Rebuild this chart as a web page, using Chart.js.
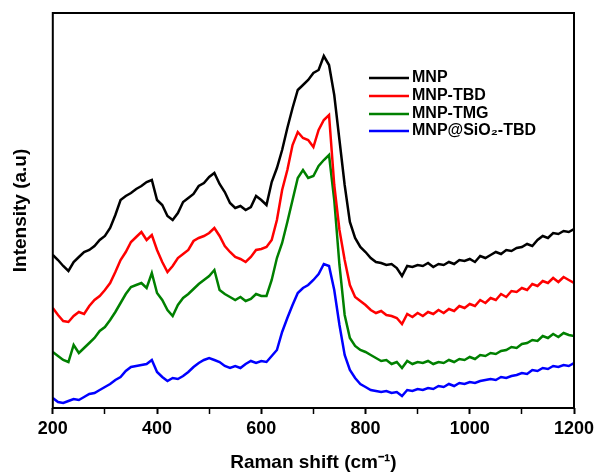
<!DOCTYPE html>
<html>
<head>
<meta charset="utf-8">
<title>Raman spectra</title>
<script src="https://cdn.jsdelivr.net/npm/chart.js@4.4.1/dist/chart.umd.min.js"></script>
<style>
  html, body { margin: 0; padding: 0; background: #fff; }
  #wrap { width: 598px; height: 472px; }
</style>
</head>
<body>
<div id="wrap"><canvas id="ramanChart" width="598" height="472"></canvas></div>
<script>
// Raman shift (cm-1), every 10 cm-1
const ramanShift = [
  200, 210, 220, 230, 240, 250, 260, 270, 280, 290,
  300, 310, 320, 330, 340, 350, 360, 370, 380, 390,
  400, 410, 420, 430, 440, 450, 460, 470, 480, 490,
  500, 510, 520, 530, 540, 550, 560, 570, 580, 590,
  600, 610, 620, 630, 640, 650, 660, 670, 680, 690,
  700, 710, 720, 730, 740, 750, 760, 770, 780, 790,
  800, 810, 820, 830, 840, 850, 860, 870, 880, 890,
  900, 910, 920, 930, 940, 950, 960, 970, 980, 990,
  1000, 1010, 1020, 1030, 1040, 1050, 1060, 1070, 1080, 1090,
  1100, 1110, 1120, 1130, 1140, 1150, 1160, 1170, 1180, 1190,
  1200
];

// intensities (a.u., stacked offsets as in the figure)
const mnp = [
  153, 148, 142, 137, 146, 151, 156, 158, 162, 168,
  172, 180, 193, 208, 212, 215, 219, 222, 226, 228,
  208, 203, 192, 188, 195, 206, 210, 214, 222, 225,
  231, 235, 224, 216, 205, 200, 202, 198, 201, 212,
  208, 203, 226, 240, 258, 280, 300, 318, 323, 328,
  335, 338, 352, 343, 313, 268, 223, 186, 170, 161,
  156, 150, 146, 145, 143, 144, 140, 132, 142, 141,
  143, 142, 145, 141, 144, 143, 146, 144, 148, 147,
  149, 146, 152, 150, 153, 156, 154, 158, 157, 160,
  161, 164, 162, 168, 172, 170, 175, 174, 177, 176,
  179
];
const mnpTbd = [
  100, 93, 87, 86, 92, 96, 94, 102, 108, 112,
  118, 125, 136, 148, 156, 166, 171, 176, 168, 173,
  158, 146, 136, 142, 150, 154, 158, 167, 170, 172,
  175, 180, 172, 162, 156, 151, 149, 146, 151, 158,
  159, 161, 168, 188, 218, 238, 263, 276, 270, 268,
  261, 278, 288, 293, 223, 178, 148, 123, 111, 107,
  103, 98, 95, 97, 93, 92, 90, 84, 94, 91,
  95, 92, 96, 94, 98, 95, 99, 97, 102, 100,
  104, 102, 108, 105, 110, 108, 114, 111, 117, 116,
  120, 118, 124, 122, 127, 125, 130, 126, 131, 128,
  125
];
const mnpTmg = [
  56, 52, 48, 46, 63, 55, 60, 65, 70, 77,
  81, 88, 96, 105, 114, 121, 123, 125, 120, 135,
  115, 108, 98, 92, 103, 110, 114, 119, 124, 128,
  132, 138, 118, 114, 111, 108, 111, 107, 109, 114,
  112, 112, 128, 150, 165, 186, 208, 230, 238, 230,
  232, 242, 248, 253, 208, 143, 93, 70, 62, 58,
  56, 53, 50, 47, 48, 44, 46, 40, 47, 44,
  46, 45, 47, 44, 46, 45, 48, 46, 49, 48,
  51, 49, 53, 52, 55, 54, 57, 58, 61, 60,
  64, 65, 68, 67, 72, 70, 74, 71, 75, 73,
  72
];
const mnpSio2Tbd = [
  10, 6, 5, 7, 9, 8, 11, 14, 15, 18,
  21, 24, 28, 31, 37, 41, 42, 43, 44, 48,
  36, 31, 27, 30, 29, 32, 36, 41, 45, 48,
  50, 48, 46, 42, 40, 42, 40, 44, 47, 45,
  47, 46, 52, 58, 76, 90, 103, 115, 120, 123,
  128, 134, 144, 142, 118, 83, 53, 38, 30, 24,
  21, 18, 17, 16, 17, 15, 16, 12, 18, 17,
  19, 18, 20, 19, 22, 21, 24, 22, 25, 24,
  26, 25, 27, 28, 29, 28, 31, 30, 32, 33,
  35, 34, 38, 37, 40, 39, 42, 41, 43, 42,
  45
];

const seriesLabels = ['MNP', 'MNP-TBD', 'MNP-TMG', 'MNP@SiO\u2082-TBD'];
const seriesColors = ['#000000', '#ff0000', '#008000', '#0000ff'];
const xTicks = [200, 400, 600, 800, 1000, 1200];

const fontFamily = '"Liberation Sans", Arial, Helvetica, sans-serif';

function toPoints(values) {
  return values.map((v, i) => ({ x: ramanShift[i], y: v }));
}

// frame round the plot area
const framePlugin = {
  id: 'frame',
  afterDraw(chart) {
    const { ctx, chartArea: a } = chart;
    ctx.save();
    ctx.strokeStyle = '#000';
    ctx.lineWidth = 2;
    ctx.strokeRect(a.left, a.top, a.right - a.left, a.bottom - a.top);
    ctx.restore();
  }
};

// legend inside the plot, lines + labels stacked
const insideLegend = {
  id: 'insideLegend',
  afterDraw(chart) {
    const { ctx } = chart;
    const rows = [78, 96, 114, 131];
    ctx.save();
    ctx.font = 'bold 16px ' + fontFamily;
    ctx.textBaseline = 'middle';
    chart.data.datasets.forEach((ds, i) => {
      const y = rows[i];
      ctx.strokeStyle = ds.borderColor;
      ctx.lineWidth = 2.5;
      ctx.beginPath();
      ctx.moveTo(369, y);
      ctx.lineTo(409, y);
      ctx.stroke();
      ctx.fillStyle = '#000';
      ctx.fillText(ds.label, 412, y);
    });
    ctx.restore();
  }
};

const allSeries = [mnp, mnpTbd, mnpTmg, mnpSio2Tbd];

const ctx = document.getElementById('ramanChart').getContext('2d');
const ramanChart = new Chart(ctx, {
  type: 'line',
  data: {
    datasets: allSeries.map((vals, i) => ({
      label: seriesLabels[i],
      data: toPoints(vals),
      borderColor: seriesColors[i],
      borderWidth: 2.5,
      pointRadius: 0,
      tension: 0,
      fill: false
    }))
  },
  options: {
    responsive: false,
    animation: false,
    layout: { padding: { left: 5, right: 24, top: 13, bottom: 0 } },
    plugins: {
      legend: { display: false },
      tooltip: { enabled: false }
    },
    scales: {
      x: {
        type: 'linear',
        min: 200,
        max: 1200,
        afterFit(scale) {
          // fixed axis band, let layout padding decide the sides
          scale.height = 64;
          scale.paddingLeft = 0;
          scale.paddingRight = 0;
        },
        ticks: {
          stepSize: 100,
          padding: 4,
          color: '#000',
          font: { family: fontFamily, size: 18, weight: 'bold' },
          callback: v => (xTicks.includes(v) ? String(v) : '')
        },
        grid: {
          display: true,
          drawOnChartArea: false,
          drawTicks: true,
          tickLength: 6,
          tickColor: '#000',
          tickWidth: c => (c.tick && c.tick.value % 200 === 0 ? 2 : 1.5)
        },
        border: { display: false },
        title: {
          display: true,
          text: 'Raman shift (cm\u207B\u00B9)',
          color: '#000',
          font: { family: fontFamily, size: 19, weight: 'bold', lineHeight: 1 },
          padding: { top: 5, bottom: 0 }
        }
      },
      y: {
        min: 0,
        max: 395,
        ticks: { display: false },
        grid: { display: false },
        border: { display: false },
        title: {
          display: true,
          text: 'Intensity (a.u)',
          color: '#000',
          font: { family: fontFamily, size: 19, weight: 'bold', lineHeight: 1.2 },
          padding: { top: 4, bottom: 13 }
        }
      }
    }
  },
  plugins: [framePlugin, insideLegend]
});
</script>
</body>
</html>
